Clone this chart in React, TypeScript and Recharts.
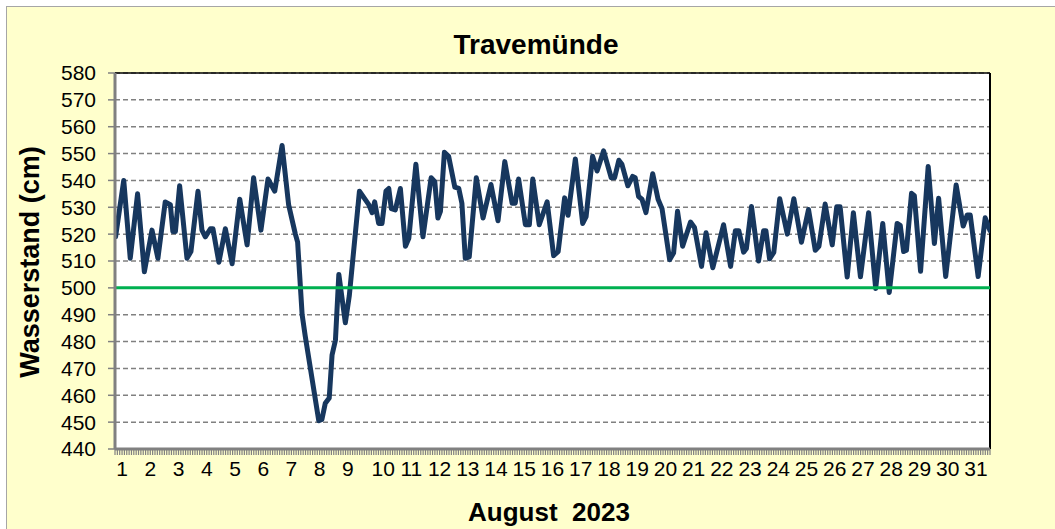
import React from 'react';
import { LineChart, Line, XAxis, YAxis, CartesianGrid, ReferenceLine } from 'recharts';

// Time in days (1.0 = 1 Aug 00:00) and water level (cm) at each vertex of the curve
const TIMES = [
  1.02, 1.31, 1.54, 1.80, 2.04, 2.31, 2.52, 2.78, 2.96, 3.05, 3.14, 3.29, 3.55, 3.69, 3.94, 4.08,
  4.20, 4.38, 4.47, 4.68, 4.91, 5.15, 5.42, 5.68, 5.91, 6.17, 6.42, 6.66, 6.92, 7.15, 7.39, 7.47,
  7.63, 7.74, 8.22, 8.33, 8.45, 8.59, 8.69, 8.81, 8.93, 9.16, 9.30, 9.66, 9.99, 10.11, 10.20, 10.34,
  10.46, 10.60, 10.70, 10.79, 10.93, 11.11, 11.29, 11.41, 11.66, 11.91, 12.20, 12.33, 12.44, 12.53,
  12.67, 12.82, 13.04, 13.18, 13.29, 13.41, 13.55, 13.80, 14.04, 14.32, 14.57, 14.81, 15.07, 15.18,
  15.30, 15.54, 15.68, 15.80, 16.03, 16.31, 16.54, 16.70, 16.93, 17.05, 17.31, 17.57, 17.69, 17.92,
  18.08, 18.31, 18.58, 18.70, 18.85, 18.96, 19.17, 19.34, 19.43, 19.55, 19.67, 19.81, 20.05, 20.24,
  20.38, 20.65, 20.79, 20.93, 21.11, 21.39, 21.53, 21.78, 21.94, 22.18, 22.56, 22.81, 22.98, 23.10,
  23.27, 23.37, 23.55, 23.80, 23.98, 24.06, 24.19, 24.34, 24.55, 24.82, 25.05, 25.32, 25.57, 25.81,
  25.94, 26.16, 26.41, 26.57, 26.69, 26.94, 27.16, 27.41, 27.70, 27.95, 28.20, 28.43, 28.71, 28.82,
  28.94, 29.04, 29.22, 29.32, 29.54, 29.81, 30.03, 30.18, 30.43, 30.80, 31.05, 31.19, 31.30, 31.58,
  31.83, 32.0,
];
const LEVELS = [
  519, 540, 511, 535, 506, 521.5, 511, 532, 531, 521, 521, 538, 511, 513.5, 536, 521.5,
  519, 522, 522, 509.5, 522, 509, 533, 516, 541, 521.5, 540.5, 536, 553, 531, 520, 517,
  490, 482, 450.5, 451, 457, 459, 475, 480.5, 505, 487, 497, 536, 531, 528, 532, 524,
  524, 536, 537, 529.5, 529, 537, 515.5, 518.5, 546, 519, 541, 539.5, 526, 528.5,
  550.5, 549, 537.5, 537, 531.5, 511, 511.5, 541, 526, 538.5, 525, 547, 531.5, 531.5,
  540.5, 523.5, 523.5, 540.5, 523.5, 532, 512, 513.5, 533.5, 527, 548, 524, 526.5, 549,
  543.5, 551, 541, 541, 547.5, 546, 538, 541.5, 541, 534, 533, 528, 542.5, 533,
  529.5, 510.5, 513, 528.5, 515.5, 524.5, 522.5, 508, 520.5, 507.5, 523.5, 508, 521.3, 521.3,
  513.3, 514.7, 530.3, 510, 521.3, 521.3, 510.8, 513.2, 533.2, 520, 533.2, 517, 529.2, 514,
  515.5, 531.2, 516, 530.2, 530.2, 504, 528, 504.1, 528, 499.8, 524, 498.3, 524, 523.3,
  513.5, 514, 535.2, 534.3, 506.2, 545.2, 516.5, 533.4, 504.2, 538.3, 523, 527.1, 527.1, 504.2,
  526.1, 521.3,
];

const DAY_LABELS = [
  '1', '2', '3', '4', '5', '6', '7', '8', '9', '10', '11', '12', '13', '14', '15', '16',
  '17', '18', '19', '20', '21', '22', '23', '24', '25', '26', '27', '28', '29', '30', '31',
];
const Y_TICKS = [440, 450, 460, 470, 480, 490, 500, 510, 520, 530, 540, 550, 560, 570, 580];
const REFERENCE_LEVEL = 500;
const TITLE = 'Travemünde';
const Y_TITLE = 'Wasserstand (cm)';
const X_TITLE = 'August\u00a0\u00a02023';
const MINOR_PER_DAY = 12;

const data = TIMES.map((t, i) => ({ t, level: LEVELS[i] }));

// minor ruler ticks along the time axis, day labels at each day's middle
const xTicks: number[] = [];
DAY_LABELS.forEach((_, d) => {
  for (let k = 0; k < MINOR_PER_DAY; k++) xTicks.push(1 + d + k / MINOR_PER_DAY);
});
xTicks.push(1 + DAY_LABELS.length);

const FONT = '"Liberation Sans", Arial, sans-serif';

const XTick = (props: any) => {
  const { x, y, payload } = props;
  const v = payload.value as number;
  const day = Math.floor(v + 1e-9);
  const frac = v - day;
  const isMid = Math.abs(frac - 0.5) < 1e-6;
  const label = DAY_LABELS[day - 1];
  return (
    <g>
      <line x1={x} y1={y} x2={x} y2={y + 6} stroke="#808080" strokeWidth={1.2} />
      {isMid && label ? (
        <text
          x={x + (label.length === 1 ? -7 : 0)}
          y={y + 27}
          textAnchor="middle"
          fontSize={21}
          fontFamily={FONT}
          fill="#000"
        >
          {label}
        </text>
      ) : null}
    </g>
  );
};

export default function App() {
  return (
    <div
      style={{
        position: 'absolute',
        left: 0,
        top: 0,
        width: 1055,
        height: 529,
        overflow: 'hidden',
        background: '#fff',
        fontFamily: FONT,
      }}
    >
      <div
        style={{
          position: 'absolute',
          left: 6,
          top: 6,
          width: 1060,
          height: 540,
          background: '#FFFFCC',
          border: '1px solid #A6A6A6',
        }}
      />
      <div style={{ position: 'absolute', left: 0, top: 0 }}>
        <LineChart
          width={1055}
          height={529}
          data={data}
          margin={{ top: 73, right: 65, left: 45, bottom: 40 }}
        >
          <CartesianGrid
            vertical={false}
            stroke="#808080"
            strokeWidth={1.5}
            strokeDasharray="5 3"
            fill="#ffffff"
            fillOpacity={1}
          />
          <XAxis
            dataKey="t"
            type="number"
            domain={[1, 32]}
            allowDataOverflow
            ticks={xTicks}
            interval={0}
            tick={<XTick />}
            tickLine={false}
            tickSize={0}
            tickMargin={0}
            axisLine={{ stroke: '#808080', strokeWidth: 3 }}
            height={40}
          />
          <YAxis
            type="number"
            domain={[440, 580]}
            allowDataOverflow
            ticks={Y_TICKS}
            interval={0}
            width={70}
            tick={{ fontSize: 21, fill: '#000', fontFamily: FONT }}
            tickSize={7}
            tickMargin={12}
            tickLine={{ stroke: '#808080', strokeWidth: 1.5 }}
            axisLine={{ stroke: '#808080', strokeWidth: 3 }}
          />
          <ReferenceLine y={580} stroke="#000" strokeWidth={1.5} />
          <ReferenceLine x={32} stroke="#000" strokeWidth={2} />
          <Line
            type="linear"
            dataKey="level"
            stroke="#17375E"
            strokeWidth={5}
            strokeLinejoin="round"
            strokeLinecap="round"
            dot={false}
            activeDot={false}
            isAnimationActive={false}
          />
          <ReferenceLine y={REFERENCE_LEVEL} stroke="#00B050" strokeWidth={3} />
        </LineChart>
      </div>
      <div
        style={{
          position: 'absolute',
          left: 236,
          width: 600,
          top: 29,
          lineHeight: '32px',
          textAlign: 'center',
          fontSize: 28,
          fontWeight: 'bold',
          color: '#000',
        }}
      >
        {TITLE}
      </div>
      <div
        style={{
          position: 'absolute',
          left: 249,
          width: 600,
          top: 497,
          lineHeight: '30px',
          textAlign: 'center',
          fontSize: 26,
          fontWeight: 'bold',
          color: '#000',
        }}
      >
        {X_TITLE}
      </div>
      <div
        style={{
          position: 'absolute',
          left: 30 - 200,
          width: 400,
          top: 262 - 15,
          height: 30,
          lineHeight: '30px',
          textAlign: 'center',
          fontSize: 27,
          fontWeight: 'bold',
          color: '#000',
          transform: 'rotate(-90deg)',
        }}
      >
        {Y_TITLE}
      </div>
    </div>
  );
}
